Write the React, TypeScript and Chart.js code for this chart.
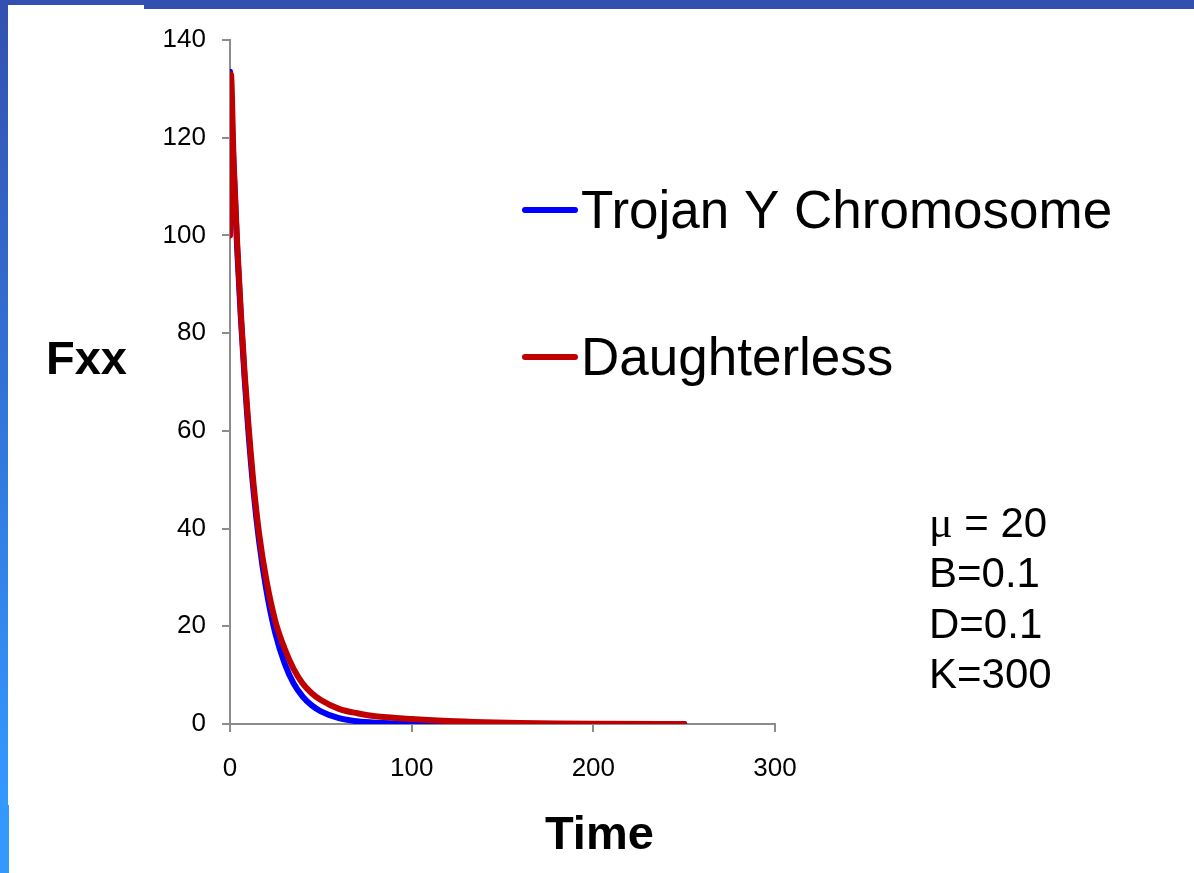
import React, { useEffect, useRef } from "react";
import { Chart, registerables } from "chart.js";

Chart.register(...registerables);

// ---- Data ----
const TIME_TROJAN = [0, 2, 4, 6, 8, 10, 13, 16, 20, 25, 30, 35, 40, 45, 50, 60, 70, 80, 100, 130, 160, 200, 250];
const FXX_TROJAN = [133.5, 114, 97, 83, 71, 60.5, 47.5, 37.5, 27.5, 18.5, 12.5, 8.3, 5.6, 3.8, 2.6, 1.2, 0.55, 0.25, 0.05, 0.01, 0, 0, 0];

const TIME_DAUGHTERLESS = [0, 0.5, 2, 4, 6, 8, 10, 13, 16, 20, 25, 30, 35, 40, 45, 50, 60, 70, 80, 90, 100, 120, 140, 160, 180, 200, 250];
const FXX_DAUGHTERLESS = [100, 133, 115, 98, 84, 72, 62, 49, 39, 29.5, 21, 15.5, 11.3, 8.3, 6.3, 4.9, 3.1, 2.2, 1.6, 1.3, 1.0, 0.6, 0.35, 0.2, 0.1, 0.05, 0];

const SERIES_LABELS = ["Trojan Y Chromosome", "Daughterless"];
const SERIES_COLORS = ["#0000ff", "#c00000"];

const X_TICKS = [0, 100, 200, 300];
const Y_TICKS = [0, 20, 40, 60, 80, 100, 120, 140];

const Y_TITLE = "Fxx";
const X_TITLE = "Time";
const MU_SYMBOL = "\u03bc";
const PARAM_LINES = [" = 20", "B=0.1", "D=0.1", "K=300"];

const W = 1194;
const H = 873;
const FONT = "'Liberation Sans', Arial, sans-serif";
const SERIF = "'Liberation Serif', 'Times New Roman', serif";
const AXIS_COLOR = "#8c8c8c";

const toPoints = (xs: number[], ys: number[]) => xs.map((x, i) => ({ x, y: ys[i] }));

const overlayPlugin = {
  id: "overlayText",
  afterDraw(chart: any) {
    const ctx = chart.ctx as CanvasRenderingContext2D;
    ctx.save();
    // Legend
    const legendYs = [210, 357];
    chart.data.datasets.forEach((ds: any, i: number) => {
      const y = legendYs[i];
      ctx.strokeStyle = ds.borderColor;
      ctx.lineWidth = 6;
      ctx.lineCap = "round";
      ctx.beginPath();
      ctx.moveTo(525, y);
      ctx.lineTo(575, y);
      ctx.stroke();
      ctx.fillStyle = "#000";
      ctx.font = `53px ${FONT}`;
      ctx.textAlign = "left";
      ctx.textBaseline = "alphabetic";
      ctx.fillText(ds.label, 581, y + 18);
    });
    // Axis titles
    ctx.fillStyle = "#000";
    ctx.font = `bold 47px ${FONT}`;
    ctx.textAlign = "left";
    ctx.textBaseline = "alphabetic";
    ctx.fillText(Y_TITLE, 46, 374);
    ctx.fillText(X_TITLE, 545, 849);
    // Parameters
    PARAM_LINES.forEach((t, i) => {
      const y = 537 + i * 50.3;
      let x = 929;
      if (i === 0) {
        ctx.font = `44px ${SERIF}`;
        ctx.fillText(MU_SYMBOL, x, y);
        x += ctx.measureText(MU_SYMBOL).width;
      }
      ctx.font = `42px ${FONT}`;
      ctx.fillText(t, x, y);
    });
    ctx.restore();
  },
};

export default function App() {
  const canvasRef = useRef<HTMLCanvasElement | null>(null);

  useEffect(() => {
    const canvas = canvasRef.current;
    if (!canvas) return;
    const chart = new Chart(canvas, {
      type: "line",
      data: {
        datasets: [
          {
            label: SERIES_LABELS[0],
            data: toPoints(TIME_TROJAN, FXX_TROJAN),
            borderColor: SERIES_COLORS[0],
            backgroundColor: SERIES_COLORS[0],
            borderWidth: 6,
            pointRadius: 0,
            cubicInterpolationMode: "monotone",
            borderCapStyle: "round",
            borderJoinStyle: "round",
            fill: false,
            order: 1,
          },
          {
            label: SERIES_LABELS[1],
            data: toPoints(TIME_DAUGHTERLESS, FXX_DAUGHTERLESS),
            borderColor: SERIES_COLORS[1],
            backgroundColor: SERIES_COLORS[1],
            borderWidth: 6,
            pointRadius: 0,
            cubicInterpolationMode: "monotone",
            borderCapStyle: "round",
            borderJoinStyle: "round",
            fill: false,
            order: 0,
          },
        ],
      },
      options: {
        animation: false,
        responsive: false,
        maintainAspectRatio: false,
        layout: { padding: { left: 0, top: 40, right: W - 775, bottom: 0 } },
        plugins: {
          legend: { display: false },
          tooltip: { enabled: false },
          title: { display: false },
        },
        scales: {
          x: {
            type: "linear",
            min: 0,
            max: 300,
            afterFit: (s: any) => {
              s.height = H - 724;
            },
            afterBuildTicks: (s: any) => {
              s.ticks = X_TICKS.map((v) => ({ value: v }));
            },
            grid: {
              display: true,
              drawOnChartArea: false,
              drawTicks: true,
              tickLength: 8,
              color: AXIS_COLOR,
              lineWidth: 2,
            },
            border: { display: true, color: AXIS_COLOR, width: 2 },
            ticks: {
              color: "#000",
              font: { family: FONT, size: 26 },
              padding: 21,
              maxRotation: 0,
            },
          },
          y: {
            type: "linear",
            min: 0,
            max: 140,
            afterFit: (s: any) => {
              s.width = 230;
            },
            afterBuildTicks: (s: any) => {
              s.ticks = Y_TICKS.map((v) => ({ value: v }));
            },
            grid: {
              display: true,
              drawOnChartArea: false,
              drawTicks: true,
              tickLength: 8,
              color: AXIS_COLOR,
              lineWidth: 2,
            },
            border: { display: true, color: AXIS_COLOR, width: 2 },
            ticks: {
              color: "#000",
              font: { family: FONT, size: 26 },
              padding: 16,
            },
          },
        },
      },
      plugins: [overlayPlugin],
    });
    return () => chart.destroy();
  }, []);

  return (
    <div style={{ position: "fixed", left: 0, top: 0, width: W, height: H, background: "#fff", overflow: "hidden" }}>
      <canvas ref={canvasRef} width={W} height={H} style={{ position: "absolute", left: 0, top: 0 }} />
      <div style={{ position: "absolute", left: 0, top: 0, width: 144, height: 5, background: "#3350b0" }} />
      <div style={{ position: "absolute", left: 144, top: 0, width: W - 144, height: 9, background: "#3350b0" }} />
      <div
        style={{
          position: "absolute",
          left: 0,
          top: 0,
          width: 8,
          height: 805,
          background: "linear-gradient(to bottom, #3350b0 0%, #3399ff 100%)",
        }}
      />
      <div style={{ position: "absolute", left: 0, top: 805, width: 9, height: H - 805, background: "#3399ff" }} />
    </div>
  );
}
